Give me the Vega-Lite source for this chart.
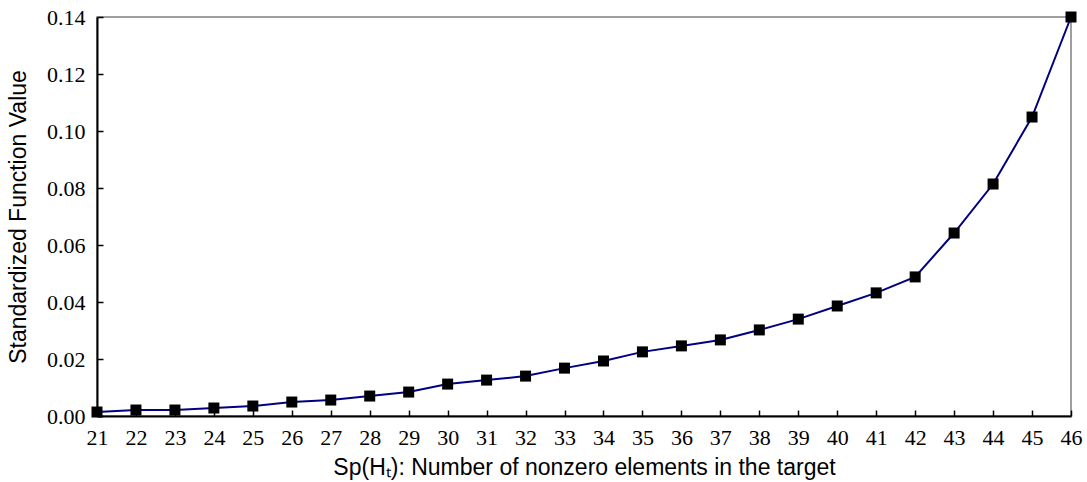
{
  "$schema": "https://vega.github.io/schema/vega-lite/v6.json",
  "width": 974,
  "height": 399,
  "autosize": {"type": "none"},
  "padding": {"left": 97, "top": 17, "right": 16, "bottom": 66},
  "background": "white",
  "config": {
    "view": {"stroke": "#808080", "strokeWidth": 1.5},
    "axis": {
      "grid": false,
      "domainColor": "black",
      "domainWidth": 2,
      "tickColor": "black",
      "tickWidth": 1.5,
      "tickSize": -6,
      "labelFont": "Liberation Serif",
      "labelFontSize": 22,
      "labelColor": "black",
      "titleFont": "Liberation Sans",
      "titleFontSize": 23,
      "titleFontWeight": "normal",
      "titleColor": "black"
    }
  },
  "data": {
    "values": [
      {"sp": 21, "v": 0.0014},
      {"sp": 22, "v": 0.0021},
      {"sp": 23, "v": 0.0021},
      {"sp": 24, "v": 0.0028},
      {"sp": 25, "v": 0.0035},
      {"sp": 26, "v": 0.0049},
      {"sp": 27, "v": 0.0056},
      {"sp": 28, "v": 0.007},
      {"sp": 29, "v": 0.0084},
      {"sp": 30, "v": 0.0112},
      {"sp": 31, "v": 0.0126},
      {"sp": 32, "v": 0.014},
      {"sp": 33, "v": 0.0168},
      {"sp": 34, "v": 0.0193},
      {"sp": 35, "v": 0.0225},
      {"sp": 36, "v": 0.0246},
      {"sp": 37, "v": 0.0267},
      {"sp": 38, "v": 0.0302},
      {"sp": 39, "v": 0.034},
      {"sp": 40, "v": 0.0386},
      {"sp": 41, "v": 0.0432},
      {"sp": 42, "v": 0.0488},
      {"sp": 43, "v": 0.0642},
      {"sp": 44, "v": 0.0814},
      {"sp": 45, "v": 0.1049},
      {"sp": 46, "v": 0.14}
    ]
  },
  "encoding": {
    "x": {
      "field": "sp",
      "type": "quantitative",
      "scale": {"domain": [21, 46], "nice": false, "zero": false},
      "axis": {
        "values": [21,22,23,24,25,26,27,28,29,30,31,32,33,34,35,36,37,38,39,40,41,42,43,44,45,46],
        "format": "d",
        "labelPadding": 17,
        "labelFlush": false,
        "labelOverlap": false,
        "title": "Sp(Hₜ): Number of nonzero elements in the target",
        "titlePadding": 8
      }
    },
    "y": {
      "field": "v",
      "type": "quantitative",
      "scale": {"domain": [0, 0.14], "nice": false},
      "axis": {
        "values": [0, 0.02, 0.04, 0.06, 0.08, 0.1, 0.12, 0.14],
        "format": ".2f",
        "labelPadding": 18,
        "labelFlush": false,
        "labelOverlap": false,
        "title": "Standardized Function Value",
        "titlePadding": 16
      }
    }
  },
  "layer": [
    {"mark": {"type": "line", "color": "#000080", "strokeWidth": 2}},
    {"mark": {"type": "square", "color": "black", "filled": true, "opacity": 1, "size": 121}}
  ]
}
